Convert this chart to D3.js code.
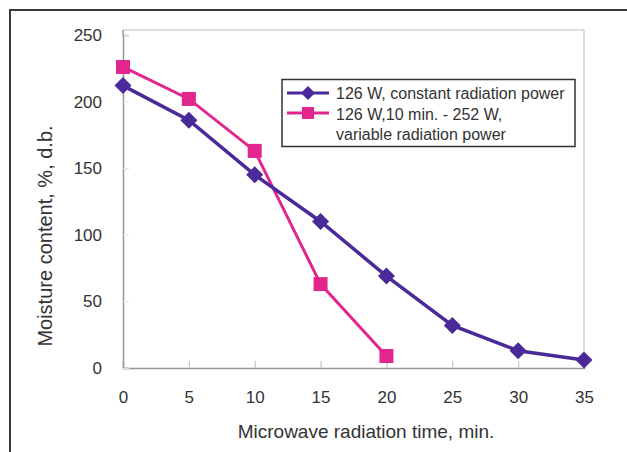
<!DOCTYPE html>
<html><head><meta charset="utf-8">
<script src="https://cdn.jsdelivr.net/npm/d3@7"></script>
<style>body{margin:0;background:#fff;}svg{display:block;}</style>
</head><body>
<script>
const timeConst = [0, 5, 10, 15, 20, 25, 30, 35];
const moistConst = [212, 186, 145, 110, 69, 32, 13, 6];
const timeVar = [0, 5, 10, 15, 20];
const moistVar = [226, 202, 163, 63, 9];
const xTicks = [0, 5, 10, 15, 20, 25, 30, 35];
const yTicks = [0, 50, 100, 150, 200, 250];
const seriesNames = ["126 W, constant radiation power", "126 W,10 min. - 252 W,", "variable radiation power"];
const xTitle = "Microwave radiation time, min.";
const yTitle = "Moisture content, %, d.b.";

const W = 627, H = 452;
const svg = d3.select("body").append("svg").attr("width", W).attr("height", H);
const font = "'Liberation Sans', Arial, sans-serif";

// outer frame
svg.append("line").attr("x1", 9).attr("x2", W).attr("y1", 10).attr("y2", 10).attr("stroke", "#3a3a3a").attr("stroke-width", 2);
svg.append("line").attr("x1", 10).attr("x2", 10).attr("y1", 10).attr("y2", H).attr("stroke", "#3a3a3a").attr("stroke-width", 2);

const x = d3.scaleLinear().domain([0, 35]).range([123, 584]);
const y = d3.scaleLinear().domain([0, 250]).range([368, 35]);

// plot box
svg.append("line").attr("x1", 123).attr("x2", 584).attr("y1", 30).attr("y2", 30).attr("stroke", "#bbb").attr("stroke-width", 1);
svg.append("line").attr("x1", 584).attr("x2", 584).attr("y1", 30).attr("y2", 368).attr("stroke", "#bbb").attr("stroke-width", 1);

const xAxis = svg.append("g").attr("transform", "translate(0,368)")
  .call(d3.axisBottom(x).tickValues(xTicks).tickSize(-7).tickPadding(23).tickFormat(d3.format("d")));
xAxis.select(".domain").attr("stroke", "#999").attr("stroke-width", 1.5);
xAxis.selectAll(".tick line").attr("stroke", "#bbb");
xAxis.selectAll("text").attr("font-family", font).attr("font-size", 17).attr("fill", "#333");

const yAxis = svg.append("g").attr("transform", "translate(123,0)")
  .call(d3.axisLeft(y).tickValues(yTicks).tickSize(-6).tickPadding(21).tickFormat(d3.format("d")));
yAxis.select(".domain").attr("stroke", "#999").attr("stroke-width", 1.5);
yAxis.selectAll(".tick line").attr("stroke", "#ddd");
yAxis.selectAll("text").attr("font-family", font).attr("font-size", 17).attr("fill", "#333");
svg.append("line").attr("x1", 123).attr("x2", 123).attr("y1", 30).attr("y2", 36).attr("stroke", "#999").attr("stroke-width", 1.5);

// titles
svg.append("text").attr("x", 366).attr("y", 438).attr("text-anchor", "middle")
  .attr("font-family", font).attr("font-size", 19).attr("fill", "#333").text(xTitle);
svg.append("text").attr("transform", "translate(52,236) rotate(-90)").attr("text-anchor", "middle")
  .attr("font-family", font).attr("font-size", 20).attr("fill", "#333").text(yTitle);

const purple = "#4a2a98", pink = "#e3268e";
const line = d3.line().x(d => x(d[0])).y(d => y(d[1]));
const dConst = timeConst.map((t, i) => [t, moistConst[i]]);
const dVar = timeVar.map((t, i) => [t, moistVar[i]]);

svg.append("path").datum(dVar).attr("d", line).attr("fill", "none").attr("stroke", pink).attr("stroke-width", 3);
svg.append("path").datum(dConst).attr("d", line).attr("fill", "none").attr("stroke", purple).attr("stroke-width", 3.5);

function diamondPath(s) { return `M0,${-s}L${s},0L0,${s}L${-s},0Z`; }

svg.selectAll(".sq").data(dVar).join("rect")
  .attr("x", d => x(d[0]) - 7).attr("y", d => y(d[1]) - 7).attr("width", 14).attr("height", 14).attr("fill", pink);
svg.selectAll(".dm").data(dConst).join("path")
  .attr("transform", d => `translate(${x(d[0])},${y(d[1])})`).attr("d", diamondPath(8.5)).attr("fill", purple);

// legend
const lg = svg.append("g");
lg.append("rect").attr("x", 282).attr("y", 79.5).attr("width", 293).attr("height", 67).attr("fill", "#fff").attr("stroke", "#333").attr("stroke-width", 1.5);
lg.append("line").attr("x1", 287).attr("x2", 329).attr("y1", 93).attr("y2", 93).attr("stroke", purple).attr("stroke-width", 3);
lg.append("path").attr("transform", "translate(308,93)").attr("d", diamondPath(7)).attr("fill", purple);
lg.append("line").attr("x1", 287).attr("x2", 329).attr("y1", 113).attr("y2", 113).attr("stroke", pink).attr("stroke-width", 3);
lg.append("rect").attr("x", 302).attr("y", 107).attr("width", 12).attr("height", 12).attr("fill", pink);
const ly = [99, 119.5, 139.5];
seriesNames.forEach((s, i) => {
  lg.append("text").attr("x", 336).attr("y", ly[i]).attr("font-family", font).attr("font-size", 16).attr("fill", "#333").text(s);
});
</script>
</body></html>
